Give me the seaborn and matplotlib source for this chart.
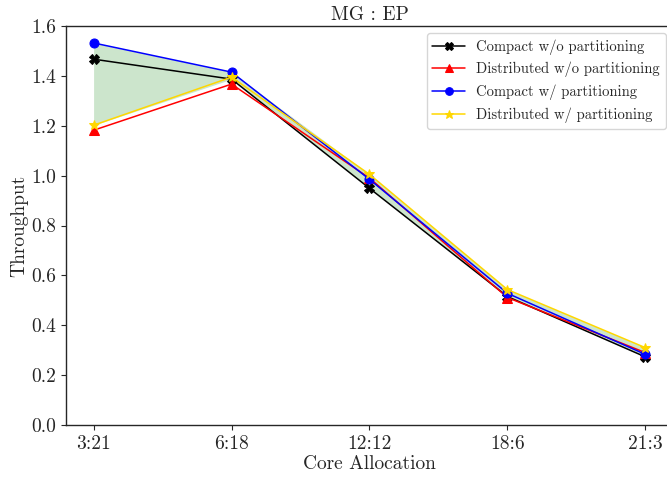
import matplotlib
matplotlib.use("Agg")
import matplotlib.pyplot as plt
import seaborn as sns
import numpy as np
import pandas as pd

categories = ["3:21", "6:18", "12:12", "18:6", "21:3"]
compact_wo = [1.467, 1.387, 0.949, 0.515, 0.273]
distributed_wo = [1.182, 1.367, 0.990, 0.511, 0.290]
compact_w = [1.532, 1.415, 0.985, 0.528, 0.283]
distributed_w = [1.202, 1.395, 1.005, 0.543, 0.310]

series_names = ["Compact w/o partitioning", "Distributed w/o partitioning",
                "Compact w/ partitioning", "Distributed w/ partitioning"]
series_vals = [compact_wo, distributed_wo, compact_w, distributed_w]
colors = ["black", "red", "blue", "gold"]
markers = ["X", "^", "o", "*"]

sns.set_style("ticks")
plt.rcParams["font.family"] = "serif"
plt.rcParams["font.serif"] = ["cmr10", "DejaVu Serif"]
plt.rcParams["mathtext.fontset"] = "cm"
plt.rcParams["axes.formatter.use_mathtext"] = True

fig = plt.figure(figsize=(6.67, 4.78), dpi=100)
ax = fig.add_axes([66/667, 1-425/478, (673-66)/667, (425-26)/478])

x = np.arange(len(categories))
for name, vals, c, m in zip(series_names, series_vals, colors, markers):
    df = pd.DataFrame({"x": x, "y": vals})
    sns.lineplot(data=df, x="x", y="y", ax=ax, color=c, marker=m,
                 markersize=6.5 if m != "*" else 7.5, markeredgecolor=c,
                 linewidth=1.1, label=name)

stack = np.array([compact_wo, compact_w, distributed_w])
ax.fill_between(x, stack.min(axis=0), stack.max(axis=0), color="green",
                alpha=0.2, linewidth=0, zorder=0)

ax.set_xticks(x)
ax.set_xticklabels(categories)
ax.set_ylim(0, 1.6)
ax.set_yticks(np.arange(0, 1.61, 0.2))
ax.set_yticklabels([f"{v:.1f}" for v in np.arange(0, 1.61, 0.2)])
ax.tick_params(labelsize=14)
ax.set_xlabel("Core Allocation", fontsize=14, labelpad=2)
ax.set_ylabel("Throughput", fontsize=14, labelpad=2)
ax.set_title("MG : EP", fontsize=14, pad=4)
for s in ax.spines.values():
    s.set_visible(True)
    s.set_linewidth(1.0)
ax.legend(loc="upper right", fontsize=10.5, frameon=True, handlelength=2.2,
          markerscale=0.85)

fig.savefig("out.png", dpi=100)
